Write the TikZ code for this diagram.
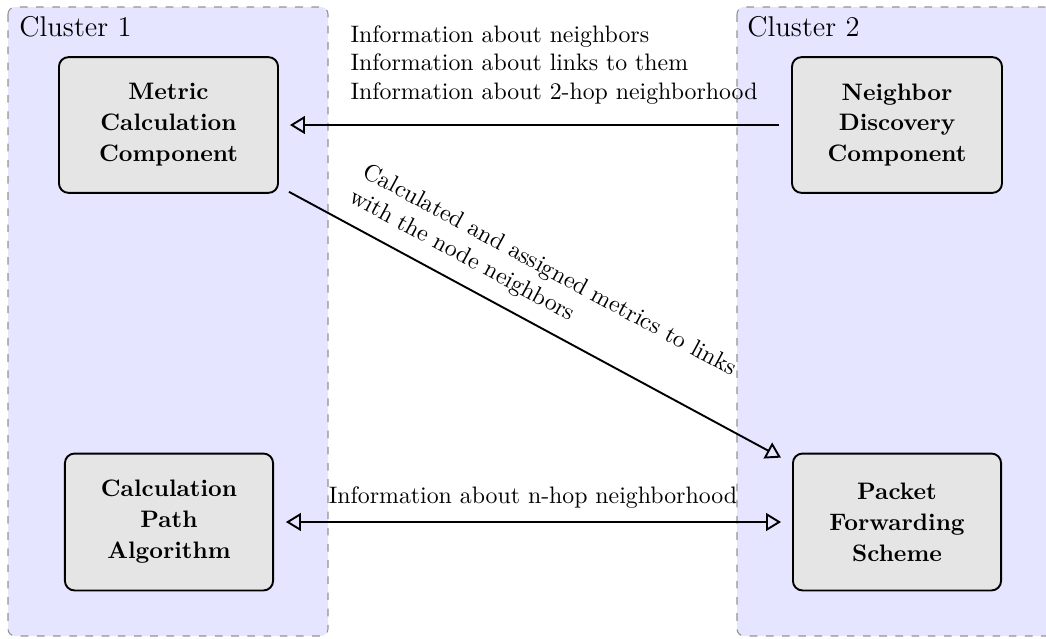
\documentclass[tikz,border=0pt]{standalone}
\usetikzlibrary{arrows.meta,calc}
\tikzset{
  cluster/.style={draw=gray!85, dash pattern=on 3.2pt off 3.6pt, fill=blue!10,
                  rounded corners=3pt, line width=0.45pt},
  clusterlabel/.style={font=\large, anchor=north west, inner sep=0pt},
  comp/.style={draw, thick, fill=gray!20, rounded corners=4pt, align=center,
               font=\bfseries\fontsize{10}{13}\selectfont, minimum height=57pt},
  flow/.style={thick, arrows={-Triangle[open,length=6.3pt,width=7.5pt]}},
  biflow/.style={thick, arrows={Triangle[open,length=6.3pt,width=7.5pt]-Triangle[open,length=6.3pt,width=7.5pt]}},
}
\begin{document}
\begin{tikzpicture}[x=0.42pt,y=-0.42pt]
  \useasboundingbox (0,0) rectangle (1046,638);
  \clip (0,0) rectangle (1046,638);

  % clusters
  \path[cluster] (8,7) rectangle (328,636);
  \path[cluster] (737,7) rectangle (1080,636);
  \node[clusterlabel] (c1) at (19,16) {Cluster 1};
  \node[clusterlabel] (c2) at (747,16) {Cluster 2};

  % components
  \node[comp, minimum width=92pt]   (mc) at (168.5,125) {Metric\\Calculation\\Component};
  \node[comp, minimum width=88.2pt] (nd) at (897,125)   {Neighbor\\Discovery\\Component};
  \node[comp, minimum width=87.4pt, minimum height=57.5pt] (cp) at (169,522) {Calculation\\Path\\Algorithm};
  \node[comp, minimum width=87.4pt, minimum height=57.5pt] (pf) at (897,522) {Packet\\Forwarding\\Scheme};

  % connectors
  \draw[flow, shorten <=5pt, shorten >=4.6pt] (nd.west) -- (mc.east)
    node[midway, above=5pt, xshift=8pt, align=left]
      {Information about neighbors\\Information about links to them\\Information about 2-hop neighborhood};

  \draw[flow] ($(mc.south east)+(10,-2)$) -- ($(pf.north west)+(-11,5)$)
    node[pos=0.477, sloped, above=2.5pt, align=left]
      {Calculated and assigned metrics to links\\with the node neighbors};

  \draw[biflow, shorten <=5pt, shorten >=4.6pt] (cp.east) -- (pf.west)
    node[midway, above=2pt] {Information about n-hop neighborhood};
\end{tikzpicture}
\end{document}
